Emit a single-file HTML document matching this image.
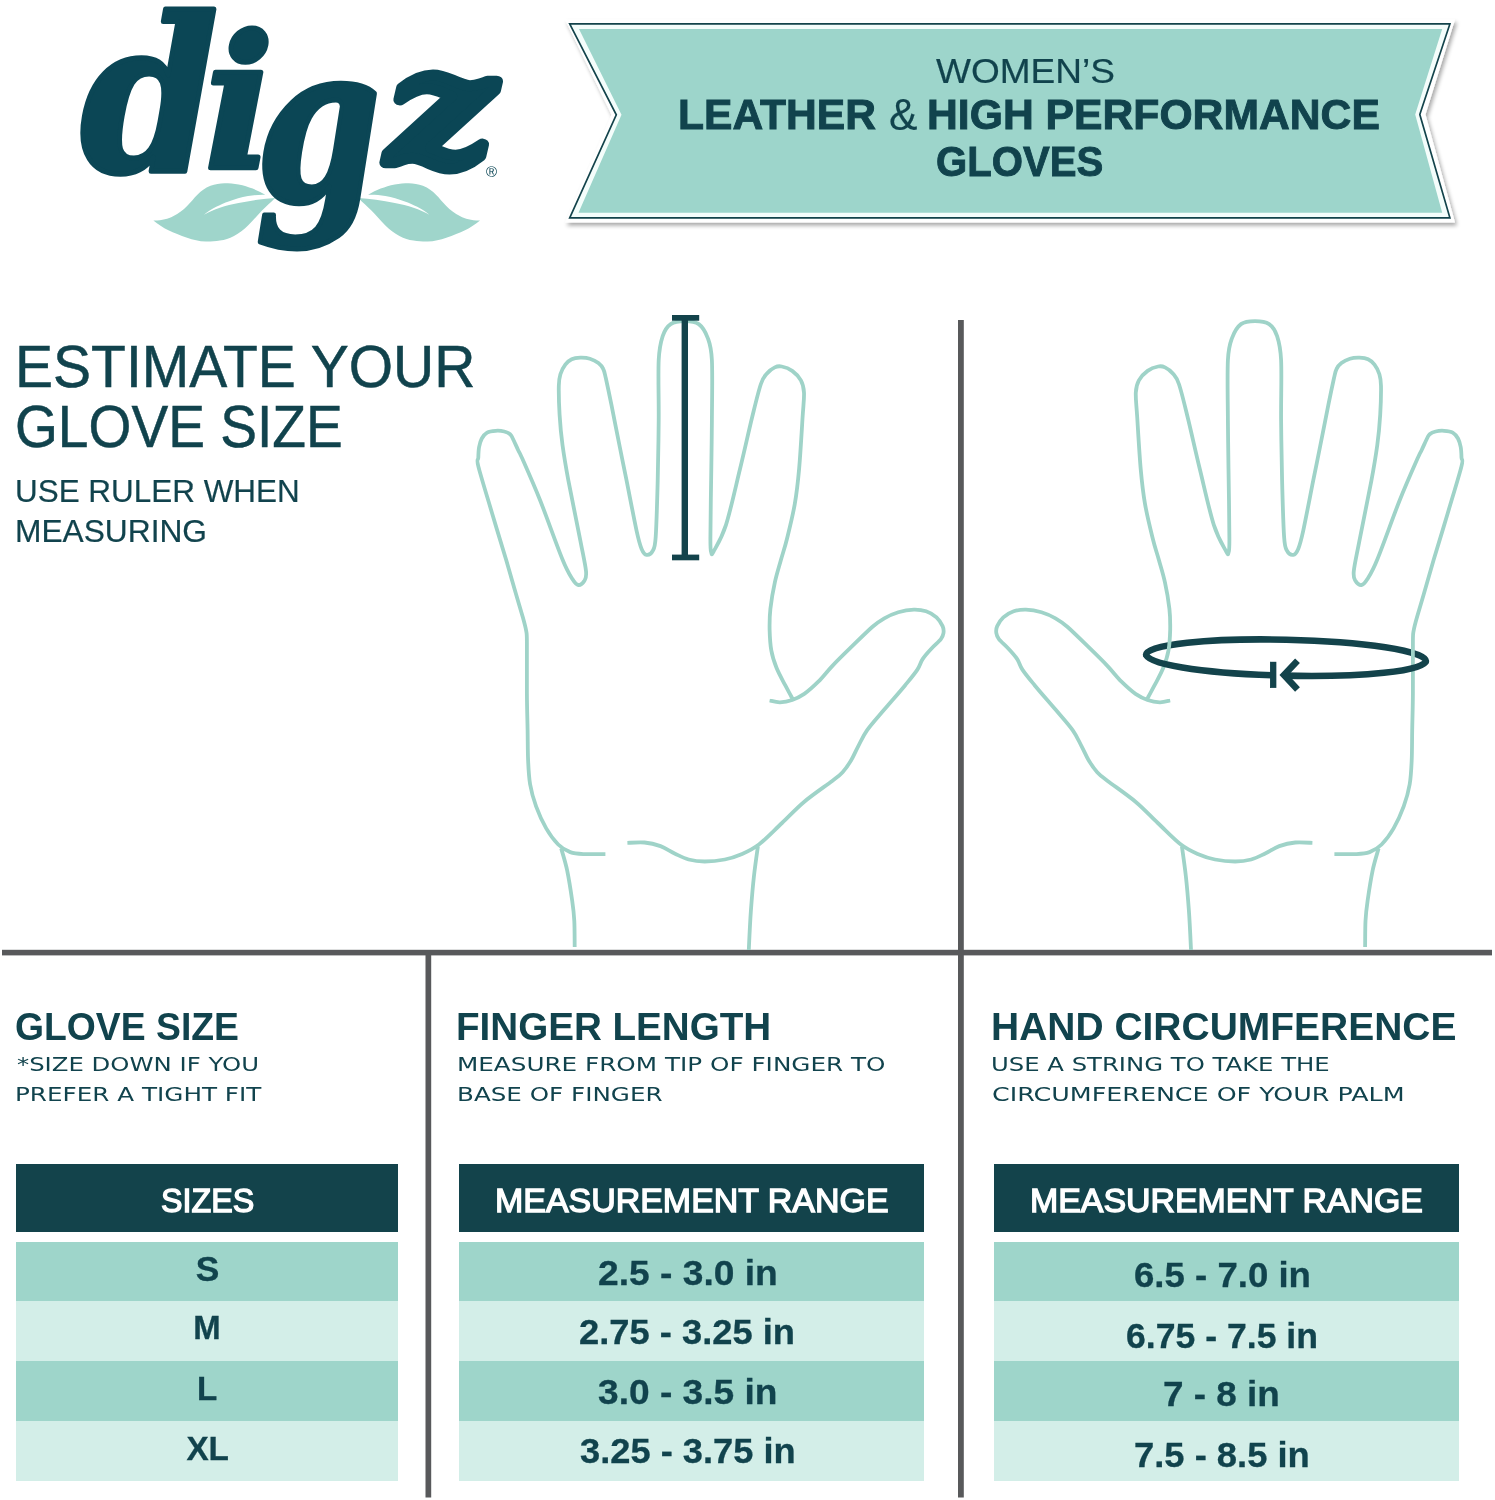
<!DOCTYPE html>
<html lang="en">
<head>
<meta charset="utf-8">
<title>Digz Women's Leather &amp; High Performance Gloves - Size Guide</title>
<style>
html,body{margin:0;padding:0;background:#fff;}
body{width:1495px;height:1500px;position:relative;overflow:hidden;font-family:"Liberation Sans",sans-serif;color:#11434d;}
#art{position:absolute;left:0;top:0;width:1495px;height:1500px;}
.t{position:absolute;white-space:nowrap;line-height:1;transform-origin:0 0;margin:0;padding:0;font-weight:400;}
.hdr{position:absolute;background:#13434b;height:68px;top:1164px;}
.row{position:absolute;height:60px;}
.r1{top:1241.5px;background:#9ed5ca;}
.r2{top:1301px;background:#d3eee8;}
.r3{top:1361px;background:#9ed5ca;}
.r4{top:1420.5px;background:#d3eee8;height:60px;}
.c1{left:16px;width:382px;}
.c2{left:458.5px;width:465.5px;}
.c3{left:993.5px;width:465px;}
.w{color:#fff;}
</style>
</head>
<body>
<svg id="art" viewBox="0 0 1495 1500" width="1495" height="1500">
  <defs>
    <filter id="sh" x="-5%" y="-10%" width="110%" height="130%">
      <feGaussianBlur in="SourceAlpha" stdDeviation="2.2"/>
      <feOffset dx="1.5" dy="3" result="o"/>
      <feComponentTransfer><feFuncA type="linear" slope="0.35"/></feComponentTransfer>
      <feMerge><feMergeNode/><feMergeNode in="SourceGraphic"/></feMerge>
    </filter>
    <path id="hand" d="M605.4 854.1 C601.9 854.1 590.2 854.4 584.3 854.1 C578.4 853.8 574.6 853.7 570.2 852.1 C565.9 850.5 562.2 848.5 558.2 844.5 C554.2 840.5 549.9 834.8 546.2 828.4 C542.5 822.0 538.8 813.8 536.1 806.4 C533.4 799.0 531.4 792.0 530.1 784.3 C528.8 776.6 528.5 769.2 528.1 760.2 C527.7 751.2 527.8 741.1 527.6 730.0 C527.4 718.9 527.0 708.3 526.9 693.8 C526.8 679.3 527.0 653.4 526.9 642.9 C526.8 632.4 526.9 635.1 526.2 630.9 C525.5 626.7 524.6 623.5 522.9 617.5 C521.2 611.5 519.0 604.4 516.2 594.8 C513.4 585.2 510.2 573.6 506.2 560.0 C502.2 546.4 496.6 528.6 492.0 513.0 C487.4 497.4 480.7 475.8 478.4 466.6 C476.1 457.4 478.2 461.0 478.3 457.7 C478.4 454.4 478.5 450.2 479.1 447.0 C479.7 443.8 480.5 440.9 481.8 438.5 C483.1 436.1 484.8 433.9 487.1 432.6 C489.4 431.3 492.9 431.0 495.7 430.8 C498.5 430.6 501.8 430.9 504.2 431.5 C506.6 432.1 508.7 433.0 510.1 434.2 C511.5 435.4 511.4 435.8 512.8 438.5 C514.1 441.2 516.6 446.8 518.2 450.2 C519.8 453.6 518.7 450.4 522.4 458.8 C526.1 467.2 533.6 484.0 540.3 500.7 C546.9 517.4 556.9 545.9 562.3 558.9 C567.6 571.9 569.7 574.6 572.4 579.0 C575.1 583.4 576.4 584.7 578.4 585.0 C580.4 585.3 583.1 583.1 584.4 580.8 C585.7 578.5 586.7 577.7 586.0 571.0 C585.3 564.3 583.3 555.9 580.4 540.8 C577.5 525.7 571.4 496.6 568.4 480.6 C565.4 464.6 564.0 455.9 562.5 445.0 C561.0 434.1 560.2 424.7 559.6 414.9 C559.0 405.1 558.7 392.8 558.8 386.0 C558.9 379.2 559.3 377.8 560.4 374.2 C561.5 370.6 563.4 367.1 565.3 364.6 C567.2 362.1 569.2 360.5 571.7 359.3 C574.2 358.1 577.2 357.8 580.2 357.7 C583.2 357.6 586.9 357.8 589.9 358.7 C592.9 359.6 596.2 361.3 598.4 363.0 C600.6 364.7 602.0 366.3 603.2 368.9 C604.5 371.5 604.5 372.6 605.9 378.5 C607.2 384.4 609.0 392.8 611.3 404.2 C613.6 415.6 617.2 434.3 619.8 447.0 C622.3 459.7 623.8 466.6 626.6 480.6 C629.4 494.6 634.1 519.4 636.6 530.8 C639.1 542.2 639.9 544.9 641.6 548.9 C643.3 552.9 644.8 554.6 646.6 554.9 C648.5 555.2 651.2 553.9 652.7 550.9 C654.2 547.9 654.9 548.5 655.7 536.8 C656.5 525.1 657.2 500.0 657.7 480.6 C658.2 461.2 658.5 440.5 658.7 420.4 C658.9 400.3 658.0 374.2 658.7 360.2 C659.4 346.1 660.7 342.1 662.7 336.1 C664.7 330.1 667.0 326.6 670.7 324.1 C674.4 321.6 680.1 321.1 684.8 321.1 C689.5 321.1 695.0 321.3 698.8 324.1 C702.6 326.9 705.6 332.1 707.8 338.1 C710.0 344.1 711.2 346.5 711.9 360.2 C712.6 373.9 712.0 402.3 711.9 420.4 C711.8 438.5 711.5 449.3 711.3 469.0 C711.0 488.7 710.4 524.8 710.4 538.7 C710.4 552.6 710.7 550.6 711.3 552.6 C711.9 554.6 711.4 555.5 713.9 550.9 C716.4 546.3 721.6 538.4 726.0 524.8 C730.4 511.1 735.6 487.0 740.0 469.0 C744.4 451.0 748.7 431.2 752.2 417.0 C755.7 402.8 758.4 391.2 760.9 384.0 C763.4 376.8 764.7 376.3 767.0 373.5 C769.3 370.7 772.3 368.6 774.8 367.4 C777.2 366.2 778.8 365.9 781.7 366.5 C784.6 367.1 789.0 368.6 792.2 370.9 C795.4 373.2 798.9 376.8 800.9 380.4 C802.9 384.0 803.7 386.5 804.0 392.6 C804.3 398.7 803.4 404.3 802.6 417.0 C801.8 429.7 800.4 454.5 799.1 469.0 C797.8 483.5 796.8 492.3 794.8 503.9 C792.8 515.5 789.3 529.4 787.0 538.7 C784.7 548.1 782.9 552.7 780.9 560.0 C778.9 567.3 776.5 574.5 774.8 582.6 C773.0 590.7 771.3 600.9 770.4 608.7 C769.5 616.5 769.5 622.7 769.6 629.6 C769.8 636.5 770.1 644.0 771.3 650.4 C772.4 656.8 774.2 662.0 776.5 667.8 C778.8 673.6 782.7 680.4 785.2 685.2 C787.7 690.0 790.1 694.2 791.3 696.5 C792.5 698.8 792.4 698.6 792.6 699.0 M769.6 700.5 C771.3 700.8 776.2 702.4 780.0 702.3 C783.8 702.2 788.2 701.4 792.2 700.0 C796.2 698.6 799.9 696.9 804.3 693.9 C808.6 690.9 813.6 686.3 818.3 681.7 C822.9 677.1 827.0 671.6 832.2 666.1 C837.4 660.6 842.9 655.2 849.6 648.7 C856.3 642.2 866.4 632.1 872.2 627.0 C878.0 621.9 879.9 620.8 884.3 618.3 C888.6 615.8 893.4 613.7 898.3 612.2 C903.2 610.8 909.3 609.8 913.9 609.6 C918.5 609.5 922.3 610.0 926.1 611.3 C929.9 612.6 933.8 614.9 936.5 617.4 C939.2 619.9 941.4 623.5 942.6 626.1 C943.8 628.7 943.8 630.8 943.5 633.0 C943.2 635.2 942.9 636.5 940.9 639.1 C938.9 641.7 934.3 645.4 931.3 648.7 C928.2 652.0 924.9 655.6 922.6 659.1 C920.3 662.6 920.3 665.2 917.4 669.6 C914.5 674.0 910.7 678.5 905.2 685.2 C899.7 691.9 890.7 702.1 884.3 709.6 C877.9 717.1 871.3 724.3 867.0 730.4 C862.7 736.5 860.9 741.2 858.3 746.1 C855.7 751.0 853.9 755.6 851.3 760.0 C848.7 764.4 845.8 768.7 842.6 772.2 C839.4 775.7 838.6 776.0 832.2 780.9 C825.8 785.8 812.7 794.7 804.3 801.7 C795.9 808.7 789.6 815.9 782.0 823.0 C774.4 830.1 765.8 839.2 758.9 844.5 C752.0 849.8 746.5 852.0 740.8 854.5 C735.1 857.0 730.8 858.3 724.8 859.5 C718.8 860.7 710.7 861.5 704.7 861.5 C698.7 861.5 693.6 860.8 688.6 859.5 C683.6 858.2 679.3 855.7 674.6 853.5 C669.9 851.3 665.5 847.9 660.5 846.1 C655.5 844.3 650.0 843.0 644.5 842.5 C639.0 842.0 630.2 842.8 627.4 842.9 M561.2 848.5 C562.2 852.2 565.4 861.9 567.2 870.6 C569.0 879.3 571.0 892.3 572.2 900.7 C573.4 909.1 573.9 913.1 574.3 920.8 C574.7 928.5 574.6 942.6 574.7 947.0 M757.9 846.5 C757.2 851.5 755.1 865.9 753.9 876.6 C752.7 887.3 751.8 898.5 750.9 910.7 C750.0 922.9 749.1 943.5 748.8 950.0"/>
    <path id="leaf" d="M153.4 220.4 C162 220.5 168 219 173.1 216.2 C179 213 183 210 187.1 205.9 C191 202 194 198 197.4 194.7 C201 191 205 188 210.5 185.8 C215 184 220 183.2 224.6 183.2 C229 183.2 234 183.6 238.6 184.4 C244 185.4 248 186.8 252.7 188.6 C257 190.3 261 192.3 265.3 194.7 C259 194.5 254 195 248 196.1 C241 197.5 235 199.2 229.3 201.2 C224 203 220 204.8 216.2 206.8 C211 209.5 207 212.3 204 214.8 C209 211.9 214 209.7 219.9 207.8 C226 205.8 232 204.4 238.6 203.1 C245 201.8 251 200.7 257.4 199.8 C263 199 269 198.4 275.1 197.9 C271 202 266 206.5 262 210.6 C257 215.8 253 220.5 248 225.6 C244 229.6 239 233.3 234 235.9 C229 238.4 225 239.7 219.9 240.5 C215 241.3 210 241.6 205.9 241.5 C199 241.3 193 239.8 187.1 237.7 C180 235.2 174 232.8 168.4 230.2 C163 227.5 158 224 153.4 220.4 Z"/>
  </defs>
  <!-- logo -->
  <use href="#leaf" fill="#9fd5cb"/>
  <use href="#leaf" fill="#9fd5cb" transform="translate(633.4,0) scale(-1,1)"/>
  <text font-family="'DejaVu Serif','Liberation Serif',serif" font-style="italic" font-weight="700" fill="#0b4655" stroke="#0b4655" stroke-width="5" stroke-linejoin="round"><tspan x="80.6" y="170.5" font-size="214" textLength="138" lengthAdjust="spacingAndGlyphs">d</tspan><tspan x="204.2" y="167.5" font-size="184">i</tspan><tspan x="255.8" y="199.8" font-size="220" textLength="125" lengthAdjust="spacingAndGlyphs">g</tspan><tspan x="388.5" y="162.5" font-size="158" textLength="105" lengthAdjust="spacingAndGlyphs" stroke-width="11">z</tspan></text>
  <text x="486" y="176.5" font-family="'Liberation Sans',sans-serif" font-size="15" fill="#0b4655">®</text>
  <!-- banner -->
  <polygon points="565,19.5 1455,19.5 1425.5,114.5 1455,222.5 565,222.5 611.5,114.7" fill="#fff" filter="url(#sh)"/>
  <polygon points="569.7,23.9 1449.9,23.9 1419.8,114.5 1449.9,217.8 569.7,217.8 616.3,114.8" fill="#f4fdfb" stroke="#13434b" stroke-width="1.7"/>
  <polygon points="579,29.1 1442.2,29.1 1415.2,114.5 1442.2,212.7 578.5,212.7 621.5,114.8" fill="#9dd5cb"/>
  <!-- grid lines -->
  <rect x="2" y="949.8" width="1490" height="5.6" fill="#58595b"/>
  <rect x="425.5" y="952" width="5.7" height="545.5" fill="#58595b"/>
  <rect x="958" y="320" width="5.8" height="1177.5" fill="#58595b"/>
  <!-- circumference back half -->
  <g fill="none" stroke="#13434b" stroke-width="6.6" transform="rotate(1.3 1286 657.7)">
    <path d="M1146.1 657.7 A139.9 18 0 0 1 1425.9 657.7" stroke-linecap="round"/>
  </g>
  <!-- hands -->
  <use href="#hand" fill="none" stroke="#9fd3c8" stroke-width="3.8" stroke-linejoin="round"/>
  <use href="#hand" transform="translate(1939.8,0) scale(-1,1)" fill="none" stroke="#9fd3c8" stroke-width="3.8" stroke-linejoin="round"/>
  <!-- finger ruler -->
  <g fill="#13434b">
    <rect x="681.6" y="317" width="6.4" height="241"/>
    <rect x="672" y="315" width="27.2" height="5.7"/>
    <rect x="672" y="554.6" width="27.2" height="5.7"/>
  </g>
  <!-- circumference front half -->
  <g fill="none" stroke="#13434b" stroke-width="6.6">
    <g transform="rotate(1.3 1286 657.7)">
      <path d="M1146.1 657.7 A139.9 18 0 0 0 1273 675.62"/>
      <path d="M1425.9 657.7 A139.9 18 0 0 1 1284 675.7"/>
    </g>
    <path d="M1273.2 661.8 V687.9" stroke-width="6.3"/>
    <path d="M1297.5 660.8 L1284 675 L1297.5 689.5" stroke-linejoin="miter"/>
  </g>
</svg>

<p class="t" id="b1" style="left:935.7px;top:54.3px;font-size:34.5px;font-weight:400;transform:scaleX(1.0731);-webkit-text-stroke:0.2px currentColor;">WOMEN’S</p>
<p class="t" style="left:0;top:0;"><span class="t" id="b2" style="left:677.7px;top:94.1px;font-size:41.7px;font-weight:700;transform:scaleX(1.0213);-webkit-text-stroke:0.9px currentColor;">LEATHER</span> <span class="t" id="b2b" style="left:888.7px;top:93.0px;font-size:44.1px;font-weight:400;transform:scaleX(0.9665);-webkit-text-stroke:0.2px currentColor;">&amp;</span> <span class="t" id="b2c" style="left:927.2px;top:94.1px;font-size:41.7px;font-weight:700;transform:scaleX(1.0238);-webkit-text-stroke:0.9px currentColor;">HIGH PERFORMANCE</span></p>
<p class="t" id="b3" style="left:935.8px;top:139.6px;font-size:42.8px;font-weight:700;transform:scaleX(0.9376);-webkit-text-stroke:0.9px currentColor;">GLOVES</p>

<h1 class="t" id="e1" style="left:15.4px;top:337.2px;font-size:59.9px;font-weight:400;transform:scaleX(0.9520);-webkit-text-stroke:0.5px currentColor;">ESTIMATE YOUR</h1>
<h1 class="t" id="e2" style="left:15.4px;top:397.2px;font-size:59.6px;font-weight:400;transform:scaleX(0.9248);-webkit-text-stroke:0.5px currentColor;">GLOVE SIZE</h1>
<p class="t" id="e3" style="left:14.8px;top:475.1px;font-size:32.2px;font-weight:400;transform:scaleX(0.9767);-webkit-text-stroke:0.2px currentColor;">USE RULER WHEN</p>
<p class="t" id="e4" style="left:14.5px;top:515.4px;font-size:32.2px;font-weight:400;transform:scaleX(0.9851);-webkit-text-stroke:0.2px currentColor;">MEASURING</p>

<section>
<h2 class="t" id="g1" style="left:15.0px;top:1007.8px;font-size:38.7px;font-weight:700;transform:scaleX(0.9647);">GLOVE SIZE</h2>
<p class="t" id="g2" style="left:16.8px;top:1054.6px;font-size:19.7px;font-weight:400;transform:scaleX(1.2364);font-family:'DejaVu Sans','Liberation Sans',sans-serif;">*SIZE DOWN IF YOU</p>
<p class="t" id="g3" style="left:15.0px;top:1084.7px;font-size:19.7px;font-weight:400;transform:scaleX(1.2520);font-family:'DejaVu Sans','Liberation Sans',sans-serif;">PREFER A TIGHT FIT</p>
<div class="hdr c1"></div><div class="t w" id="g4" style="left:160.9px;top:1182.9px;font-size:34.0px;font-weight:400;transform:scaleX(0.9484);-webkit-text-stroke:1.4px currentColor;">SIZES</div>
<div class="row r1 c1"></div><div class="row r2 c1"></div><div class="row r3 c1"></div><div class="row r4 c1"></div>
<div class="t" id="s1" style="left:195.7px;top:1251.5px;font-size:35.4px;font-weight:700;transform:scaleX(1.0000);-webkit-text-stroke:0.3px currentColor;">S</div><div class="t" id="s2" style="left:193.3px;top:1312.4px;font-size:32.9px;font-weight:700;transform:scaleX(1.0000);-webkit-text-stroke:0.3px currentColor;">M</div><div class="t" id="s3" style="left:197.1px;top:1372.4px;font-size:33.2px;font-weight:700;transform:scaleX(1.0000);-webkit-text-stroke:0.3px currentColor;">L</div><div class="t" id="s4" style="left:186.4px;top:1431.7px;font-size:33.3px;font-weight:700;transform:scaleX(1.0000);-webkit-text-stroke:0.3px currentColor;">XL</div>
</section>

<section>
<h2 class="t" id="f1" style="left:456.3px;top:1007.8px;font-size:38.7px;font-weight:700;transform:scaleX(0.9977);">FINGER LENGTH</h2>
<p class="t" id="f2" style="left:456.5px;top:1054.6px;font-size:19.7px;font-weight:400;transform:scaleX(1.2531);font-family:'DejaVu Sans','Liberation Sans',sans-serif;">MEASURE FROM TIP OF FINGER TO</p>
<p class="t" id="f3" style="left:456.5px;top:1084.7px;font-size:19.7px;font-weight:400;transform:scaleX(1.2495);font-family:'DejaVu Sans','Liberation Sans',sans-serif;">BASE OF FINGER</p>
<div class="hdr c2"></div><div class="t w" id="f4" style="left:495.0px;top:1182.9px;font-size:34.0px;font-weight:400;transform:scaleX(0.9984);-webkit-text-stroke:1.4px currentColor;">MEASUREMENT RANGE</div>
<div class="row r1 c2"></div><div class="row r2 c2"></div><div class="row r3 c2"></div><div class="row r4 c2"></div>
<div class="t" id="m1" style="left:597.5px;top:1255.6px;font-size:35.6px;font-weight:700;transform:scaleX(1.0452);-webkit-text-stroke:0.3px currentColor;">2.5 - 3.0 in</div><div class="t" id="m2" style="left:579.3px;top:1315.0px;font-size:35.6px;font-weight:700;transform:scaleX(1.0209);-webkit-text-stroke:0.3px currentColor;">2.75 - 3.25 in</div><div class="t" id="m3" style="left:597.9px;top:1374.7px;font-size:35.6px;font-weight:700;transform:scaleX(1.0430);-webkit-text-stroke:0.3px currentColor;">3.0 - 3.5 in</div><div class="t" id="m4" style="left:579.7px;top:1434.1px;font-size:35.6px;font-weight:700;transform:scaleX(1.0191);-webkit-text-stroke:0.3px currentColor;">3.25 - 3.75 in</div>
</section>

<section>
<h2 class="t" id="h1" style="left:990.8px;top:1007.8px;font-size:38.7px;font-weight:700;transform:scaleX(1.0073);">HAND CIRCUMFERENCE</h2>
<p class="t" id="h2" style="left:991.3px;top:1054.6px;font-size:19.7px;font-weight:400;transform:scaleX(1.2351);font-family:'DejaVu Sans','Liberation Sans',sans-serif;">USE A STRING TO TAKE THE</p>
<p class="t" id="h3" style="left:992.0px;top:1084.7px;font-size:19.7px;font-weight:400;transform:scaleX(1.2878);font-family:'DejaVu Sans','Liberation Sans',sans-serif;">CIRCUMFERENCE OF YOUR PALM</p>
<div class="hdr c3"></div><div class="t w" id="h4" style="left:1030.0px;top:1182.9px;font-size:34.0px;font-weight:400;transform:scaleX(0.9969);-webkit-text-stroke:1.4px currentColor;">MEASUREMENT RANGE</div>
<div class="row r1 c3"></div><div class="row r2 c3"></div><div class="row r3 c3"></div><div class="row r4 c3"></div>
<div class="t" id="c1" style="left:1133.8px;top:1258.0px;font-size:35.6px;font-weight:700;transform:scaleX(1.0286);-webkit-text-stroke:0.3px currentColor;">6.5 - 7.0 in</div><div class="t" id="c2" style="left:1126.2px;top:1317.9px;font-size:35.3px;font-weight:700;transform:scaleX(1.0090);-webkit-text-stroke:0.3px currentColor;">6.75 - 7.5 in</div><div class="t" id="c3" style="left:1163.3px;top:1377.1px;font-size:35.6px;font-weight:700;transform:scaleX(1.0366);-webkit-text-stroke:0.3px currentColor;">7 - 8 in</div><div class="t" id="c4" style="left:1133.7px;top:1437.0px;font-size:35.3px;font-weight:700;transform:scaleX(1.0302);-webkit-text-stroke:0.3px currentColor;">7.5 - 8.5 in</div>
</section>
</body>
</html>
